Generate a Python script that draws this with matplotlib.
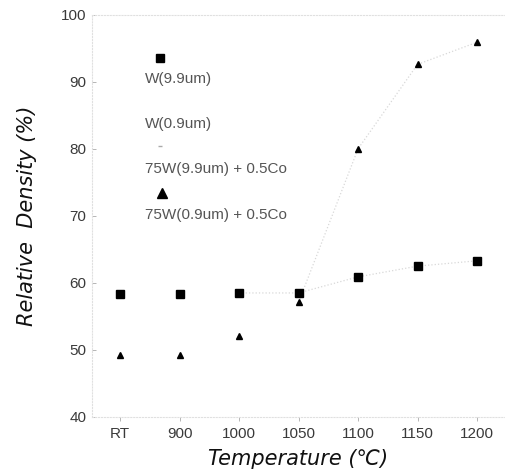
import numpy as np
import matplotlib.pyplot as plt

plt.rcParams['font.family'] = ['Liberation Sans', 'DejaVu Sans']

# --- data ---
temps = ['RT', '900', '1000', '1050', '1100', '1150', '1200']
w_coarse = [58.3, 58.3, 58.5, 58.5, 60.9, 62.5, 63.3]      # squares
w_co_fine = [49.2, 49.2, 52.1, 57.1, 80.0, 92.6, 95.9]     # triangles
legend_labels = ['W(9.9um)', 'W(0.9um)', '75W(9.9um) + 0.5Co', '75W(0.9um) + 0.5Co']

x = np.arange(len(temps))

fig = plt.figure(figsize=(5.06, 4.76), dpi=100)
ax = fig.add_axes([0.182, 0.124, 0.816, 0.845])

# faint fit lines (barely visible in the scan)
ax.plot(x[2:], w_coarse[2:], ':', color='#d8d8d8', lw=0.9)
ax.plot(x[3:], w_co_fine[3:], ':', color='#d8d8d8', lw=0.9)

ax.plot(x, w_coarse, 's', color='black', ms=5.5, ls='none')
ax.plot(x, w_co_fine, '^', color='black', ms=4.5, ls='none')

ax.set_xlim(-0.47, 6.47)
ax.set_ylim(40, 100)
ax.set_xticks(x)
ax.set_xticklabels(temps)
ax.set_yticks(np.arange(40, 101, 10))

ax.tick_params(axis='both', labelsize=11, labelcolor='#3a3a3a', color='#aaaaaa',
               length=3, width=0.6)
ax.tick_params(axis='y', direction='in', pad=4)
ax.tick_params(axis='x', direction='out', pad=4)

for side in ['left', 'bottom', 'top']:
    ax.spines[side].set_color('#e0e0e0')
    ax.spines[side].set_linestyle(':')
    ax.spines[side].set_linewidth(0.8)
ax.spines['right'].set_visible(False)

lab_font = dict(fontsize=15, style='italic', family=['DejaVu Sans'], color='#111111')
ax.set_xlabel('Temperature (\u2103)', labelpad=6, **lab_font)
ax.set_ylabel('Relative  Density (%)', labelpad=17, **lab_font)

# legend drawn as in the original: marker above each label
ax.plot([0.165], [0.893], 's', color='black', ms=5.5, transform=ax.transAxes)
ax.plot([0.165], [0.674], '_', color='#aaaaaa', ms=3, transform=ax.transAxes)
ax.plot([0.169], [0.557], '^', color='black', ms=7, transform=ax.transAxes)
for lab, yy in zip(legend_labels, [0.841, 0.729, 0.617, 0.502]):
    ax.text(0.128, yy, lab, transform=ax.transAxes, fontsize=11,
            color='#555555', va='center', ha='left')

fig.savefig('out.png', dpi=100)
